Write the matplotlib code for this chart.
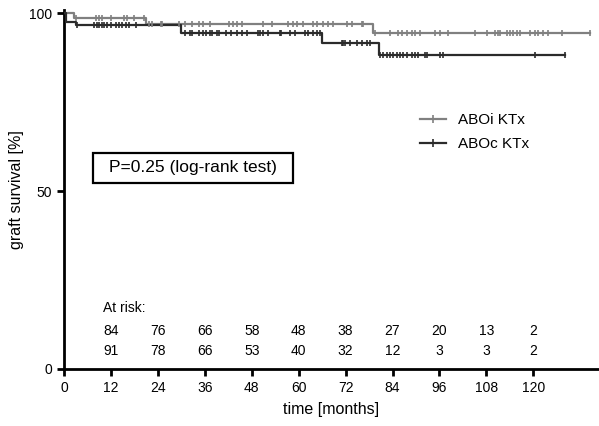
import numpy as np
import matplotlib.pyplot as plt
from matplotlib.lines import Line2D
from matplotlib.patches import Rectangle

plt.rcParams['font.family'] = ['Liberation Sans', 'DejaVu Sans']

# Kaplan-Meier steps (months, % survival)
aboi_times = [0, 2.5, 21, 79]
aboi_surv = [100, 98.8, 97.1, 94.4]
aboi_end = 134.6
aboc_times = [0, 0.5, 3, 30, 66, 80.5]
aboc_surv = [100, 97.6, 96.8, 94.4, 91.6, 88.2]
aboc_end = 128.2

# censored observations (months)
aboi_cens = [3.1, 8.2, 9.0, 9.7, 12.1, 15.4, 16.2, 17.9, 20.5,
             21.8, 22.6, 24.9, 25.1, 29.5, 30.8, 32.8, 34.6, 35.4, 37.2,
             42.3, 43.1, 44.1, 45.6, 50.8, 53.1, 57.2, 58.5, 59.5, 61.0,
             63.6, 64.6, 66.2, 67.4, 68.7, 72.3, 73.6, 76.2, 76.4,
             79.5, 83.3, 85.4, 86.4, 87.7, 89.0, 89.7, 91.0, 94.9, 96.2,
             98.2, 105.1, 108.2, 110.3, 111.0, 111.5, 113.3, 114.1, 114.9,
             115.9, 116.7, 119.2, 120.5, 121.3, 122.6, 123.8, 127.4, 134.6]
aboc_cens = [3.3, 7.7, 8.5, 9.0, 9.7, 10.3, 11.0, 12.1, 13.3, 14.1, 14.9,
             15.9, 16.7, 18.5,
             30.8, 32.1, 32.8, 34.6, 35.4, 36.4, 37.2, 37.9, 39.0, 39.7,
             41.5, 42.8, 44.1, 45.4, 46.9, 49.5, 50.0, 50.8, 52.1, 55.1,
             55.6, 57.7, 59.0, 61.5, 62.3, 63.6, 64.6, 65.4,
             71.0, 71.3, 71.8, 73.1, 74.9, 76.2, 77.4, 78.2,
             80.8, 81.5, 82.6, 83.3, 84.1, 85.1, 85.9, 86.7, 87.7, 89.0,
             89.7, 90.5, 92.3, 92.8, 96.2, 96.9, 120.5, 128.2]

# numbers at risk
risk_months = [12, 24, 36, 48, 60, 72, 84, 96, 108, 120]
risk_aboi = [84, 76, 66, 58, 48, 38, 27, 20, 13, 2]
risk_aboc = [91, 78, 66, 53, 40, 32, 12, 3, 3, 2]

GRAY = '#808080'
DARK = '#2b2b2b'


def surv_at(t, times, surv):
    idx = np.searchsorted(times, t, side='right') - 1
    return np.array(surv)[idx]


fig = plt.figure(figsize=(5.99, 4.26), dpi=100)
ax = fig.add_axes([0.107, 0.134, 0.891, 0.843])

for times, surv, end, cens, col in [
        (aboi_times, aboi_surv, aboi_end, aboi_cens, GRAY),
        (aboc_times, aboc_surv, aboc_end, aboc_cens, DARK)]:
    xs = list(times) + [end]
    ys = list(surv) + [surv[-1]]
    ax.step(xs, ys, where='post', color=col, lw=1.6, zorder=3)
    ax.plot(cens, surv_at(cens, times, surv), ls='none', marker='|',
            ms=4, mew=1.2, color=col, zorder=4)

ax.set_xlim(0, 136.5)
ax.set_ylim(0, 101)
ax.set_xticks(range(0, 121, 12))
ax.set_yticks([0, 50, 100])
for s in ['top', 'right']:
    ax.spines[s].set_visible(False)
for s in ['left', 'bottom']:
    ax.spines[s].set_linewidth(2)
ax.tick_params(width=2, length=5, labelsize=10, direction='out')

ax.set_xlabel('time [months]', fontsize=11.5, labelpad=5)
ax.set_ylabel('graft survival [%]', fontsize=11.5, labelpad=4)

# numbers at risk
ax.text(10.0, 17.1, 'At risk:', fontsize=10, va='center', ha='left')
for m, a, c in zip(risk_months, risk_aboi, risk_aboc):
    ax.text(m, 10.7, str(a), fontsize=10, ha='center', va='center')
    ax.text(m, 5.1, str(c), fontsize=10, ha='center', va='center')

# p-value box
ax.add_patch(Rectangle((0.054, 0.518), 0.375, 0.083, transform=ax.transAxes,
                       fill=False, ec='black', lw=1.6, zorder=5))
ax.text(0.2415, 0.5595, 'P=0.25 (log-rank test)', fontsize=12.5,
        ha='center', va='center', transform=ax.transAxes)

handles = [Line2D([], [], color=GRAY, lw=1.6, marker='|', ms=6, mew=1.2),
           Line2D([], [], color=DARK, lw=1.6, marker='|', ms=6, mew=1.2)]
leg = ax.legend(handles, ['ABOi KTx', 'ABOc KTx'], loc='center left',
                bbox_to_anchor=(0.667, 0.66), frameon=False, fontsize=11,
                handlelength=1.7, handletextpad=0.8, labelspacing=0.65,
                borderpad=0, borderaxespad=0)
for h in leg.legend_handles:
    h.set_markevery([1])

fig.savefig('out.png', dpi=100)
